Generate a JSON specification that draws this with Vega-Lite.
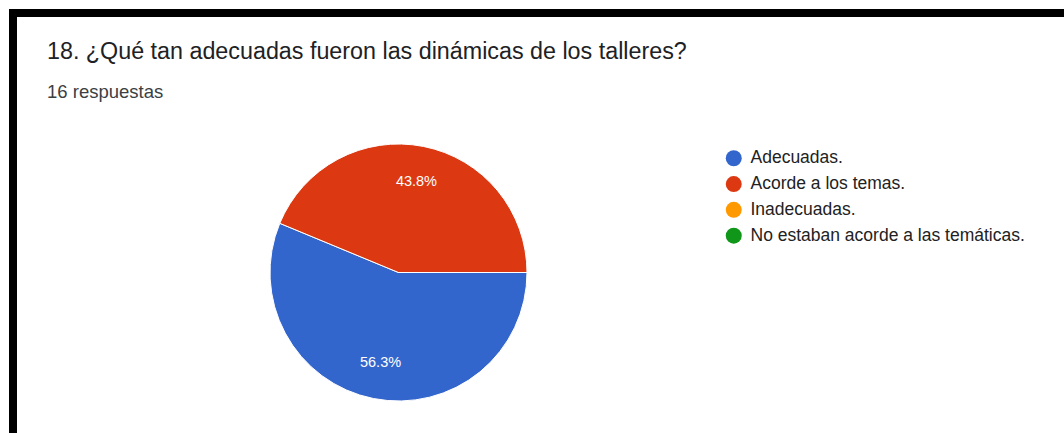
{
  "$schema": "https://vega.github.io/schema/vega-lite/v6.json",
  "width": 1071,
  "height": 440,
  "autosize": {"type": "none"},
  "padding": {"left": 13, "top": 13, "right": -20, "bottom": -20},
  "background": "white",
  "view": {"stroke": "black", "strokeWidth": 8, "fill": "white"},
  "title": {
    "text": "18. ¿Qué tan adecuadas fueron las dinámicas de los talleres?",
    "subtitle": "16 respuestas",
    "anchor": "start",
    "frame": "group",
    "orient": "top",
    "offset": -89,
    "dx": 34,
    "font": "Liberation Sans",
    "fontSize": 23.3,
    "fontWeight": "normal",
    "color": "#202124",
    "subtitleFont": "Liberation Sans",
    "subtitleFontSize": 18.5,
    "subtitleColor": "#3c4043",
    "subtitlePadding": 18
  },
  "data": {
    "values": [
      {"respuesta": "Adecuadas.", "cantidad": 9, "orden": 1},
      {"respuesta": "Acorde a los temas.", "cantidad": 7, "orden": 2},
      {"respuesta": "Inadecuadas.", "cantidad": 0, "orden": 3},
      {"respuesta": "No estaban acorde a las temáticas.", "cantidad": 0, "orden": 4}
    ]
  },
  "transform": [
    {"joinaggregate": [{"op": "sum", "field": "cantidad", "as": "total"}]},
    {"calculate": "datum.cantidad / datum.total", "as": "fraccion"}
  ],
  "encoding": {
    "theta": {
      "field": "cantidad",
      "type": "quantitative",
      "stack": true,
      "scale": {"range": [1.5707963, 7.8539816]}
    },
    "order": {"field": "orden", "type": "quantitative", "sort": "ascending"}
  },
  "layer": [
    {
      "mark": {"type": "arc", "outerRadius": 128.5, "x": 385.5, "y": 259.5, "stroke": "white", "strokeWidth": 1},
      "encoding": {
        "color": {
          "field": "respuesta",
          "type": "nominal",
          "sort": ["Adecuadas.", "Acorde a los temas.", "Inadecuadas.", "No estaban acorde a las temáticas."],
          "scale": {
            "domain": ["Adecuadas.", "Acorde a los temas.", "Inadecuadas.", "No estaban acorde a las temáticas."],
            "range": ["#3366cc", "#dc3912", "#ff9900", "#109618"]
          },
          "legend": {
            "title": null,
            "orient": "none",
            "legendX": 712,
            "legendY": 136.5,
            "padding": 0,
            "symbolType": "circle",
            "symbolSize": 256,
            "symbolStrokeWidth": 0,
            "labelFont": "Liberation Sans",
            "labelFontSize": 17.5,
            "labelColor": "#222222",
            "labelOffset": 8,
            "rowPadding": 6.8,
            "labelLimit": 400
          }
        }
      }
    },
    {
      "transform": [{"filter": "datum.cantidad > 0"}],
      "mark": {"type": "text", "radius": 92, "x": 385.5, "y": 259.5, "font": "Liberation Sans", "fontSize": 14.5, "color": "white", "align": "center", "baseline": "middle"},
      "encoding": {
        "text": {"field": "fraccion", "type": "quantitative", "format": ".1%"}
      }
    }
  ]
}
